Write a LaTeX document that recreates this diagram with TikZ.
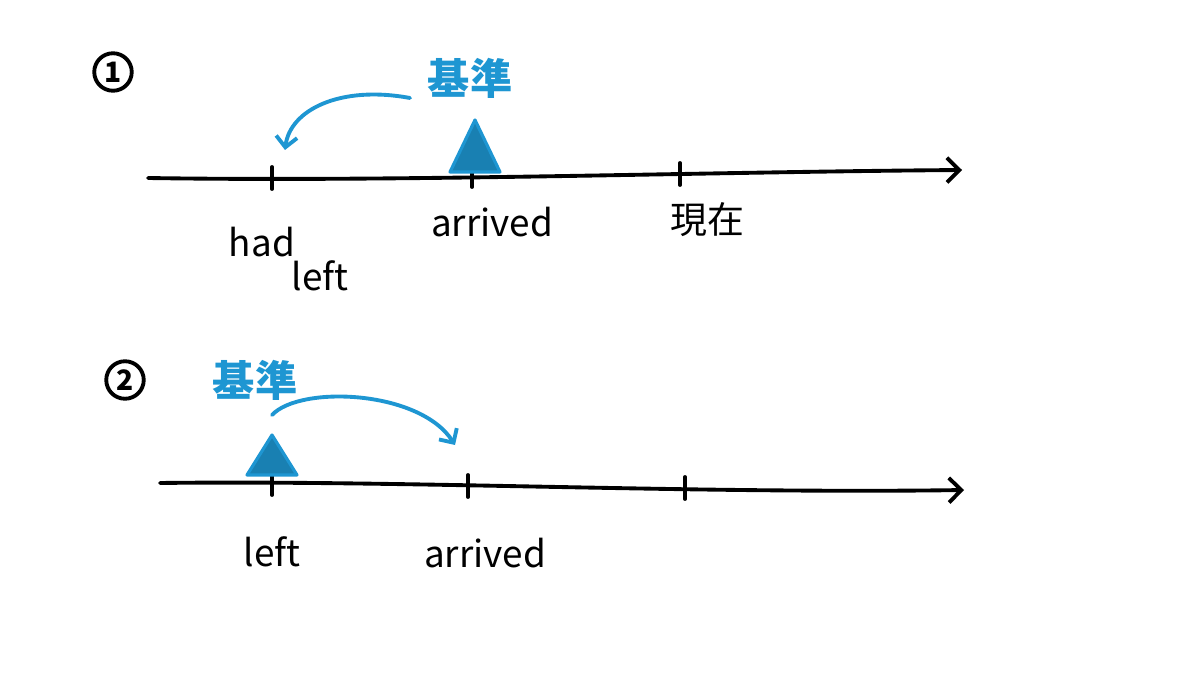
\documentclass[tikz,border=0pt]{standalone}
\usepackage{fontspec}
\setmainfont{Noto Sans CJK JP}
\usetikzlibrary{arrows.meta}
\definecolor{kb}{RGB}{30,150,210}
\begin{document}
\begin{tikzpicture}[x=0.02cm,y=-0.02cm,
  axis/.style={line width=2.2pt,line cap=round,-{Straight Barb[length=7pt,width=14pt]}},
  tick/.style={line width=2.2pt,line cap=round},
  lab/.style={font=\fontsize{21}{21}\selectfont},
  kj/.style={font=\fontsize{24}{24}\selectfont\bfseries,text=kb},
  tri/.style={draw=kb,line width=1.8pt,fill=kb!85!black,line join=round},
  carrow/.style={draw=kb,line width=2.2pt,line cap=round,-{Straight Barb[length=6pt,width=12pt]}},
  num/.style={circle,draw,line width=2.2pt,minimum size=0.75cm,inner sep=0pt,font=\bfseries\fontsize{16}{16}\selectfont}]
\useasboundingbox (0,0) rectangle (1200,675);
\node[num] (c1) at (113,72) {1};
\node[num] (c2) at (125,380) {2};
% line 1
\coordinate (a1) at (148,178); \coordinate (b1) at (962,170);
\draw[axis] (a1) .. controls (400,182) and (700,172) .. (b1);
\foreach \x/\y in {272/178,472/176,680/174}{\draw[tick] (\x,\y-11) -- (\x,\y+11);}
\node[lab] (had) at (262,242) {had};
\node[lab] (left1) at (320,276) {left};
\node[lab] (arr1) at (492,222) {arrived};
\node[lab] (now) at (707,220) {現在};
\path[tri] (475,120) -- (450,172) -- (500,172) -- cycle;
\node[kj] (k1) at (470,78) {基準};
\coordinate (s1) at (410,98); \coordinate (e1) at (285,150);
\draw[carrow] (s1) .. controls (340,85) and (290,110) .. (e1);
% line 2
\coordinate (a2) at (160,483); \coordinate (b2) at (964,490);
\draw[axis] (a2) .. controls (400,480) and (700,494) .. (b2);
\foreach \x/\y in {272/484,468/486,685/488}{\draw[tick] (\x,\y-11) -- (\x,\y+11);}
\path[tri] (272,435) -- (247,475) -- (297,475) -- cycle;
\node[kj] (k2) at (255,380) {基準};
\coordinate (s2) at (272,415); \coordinate (e2) at (455,445);
\draw[carrow] (s2) .. controls (300,385) and (420,390) .. (e2);
\node[lab] (left2) at (272,552) {left};
\node[lab] (arr2) at (485,553) {arrived};
\end{tikzpicture}
\end{document}
